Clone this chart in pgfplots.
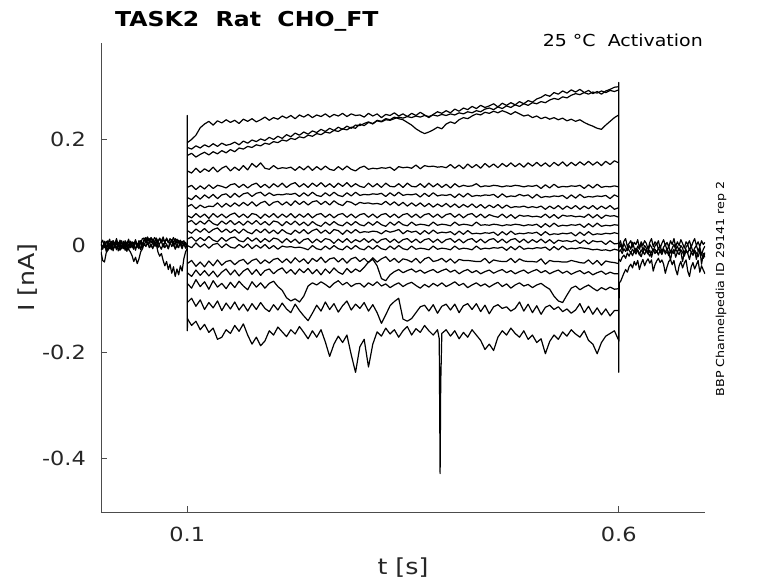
\documentclass[border=0pt]{standalone}
\usepackage{pgfplots}
\pgfplotsset{compat=1.18}
\usepackage{pgfplotstable}
\usepackage{fontspec}
\setmainfont{DejaVu Sans}[FakeStretch=1.15]
\definecolor{txt}{HTML}{262626}

% times in ms, currents in pA
\pgfplotstableread{
t q1 q2 q3 q4 q5
0 5 -8 2 -12 4
2 10 -2 -7 -28 -5
4 -4 6 8 -31 7
6 8 -11 -1 -14 -6
8 2 4 -9 -8 9
10 12 -6 4 -4 -1
12 -3 8 -5 5 -8
14 9 -10 9 -7 6
16 3 2 -3 2 -4
18 13 -8 6 -6 10
20 -1 6 -10 4 -2
22 10 -4 2 -9 8
24 5 9 -6 0 -6
26 -3 -6 8 -4 3
28 9 4 -4 6 -9
30 3 -11 4 -2 2
32 12 2 -8 -7 9
34 -4 8 6 -12 -4
36 7 -4 -1 -19 6
38 1 6 -7 -30 -2
40 11 -9 9 -22 8
42 -1 4 -3 -34 -1
44 9 -2 6 -25 -6
46 5 8 -8 -12 9
48 13 -6 4 -6 2
50 14 10 0 4 12
52 9 15 9 -2 6
54 16 8 2 6 14
56 8 13 7 -4 7
58 14 5 -3 2 15
60 7 12 6 -6 9
62 15 6 -1 4 4
64 10 14 9 -2 3
66 5 8 -4 6 -12
68 14 13 4 -1 -20
70 8 5 8 -7 -15
72 16 11 -3 4 -28
74 6 6 6 -4 -38
76 12 14 2 2 -30
78 5 8 -6 -6 -45
80 13 3 4 7 -35
82 8 11 9 -2 -52
84 15 6 -1 4 -40
86 6 13 6 -7 -58
88 12 4 -4 2 -44
90 5 10 8 -4 -55
92 10 3 2 6 -38
94 3 8 -6 -2 -48
96 9 1 4 4 -25
98 2 6 -2 -5 -12
100 0 0 0 0 -5
}\pretab

\pgfplotstableread{
t c1 c2 c3 c4 c5 c6 c7 c8 c9 c10 c11 c12 c13 c14 c15 c16
100 193 184 169 140 109 90 73 56 43 28 12 0 -34 -51 -71 -107
105 199 181 173 136 113 86 77 52 47 23 16 -4 -28 -58 -80 -99
110 207 187 166 145 105 94 69 60 39 31 8 5 -39 -46 -64 -114
115 221 183 171 137 112 87 76 53 46 25 15 -3 -31 -56 -77 -102
120 228 189 175 144 106 95 71 59 40 32 9 3 -40 -47 -68 -120
125 233 185 170 139 114 89 74 51 48 24 17 -5 -29 -57 -82 -107
130 226 191 176 147 107 96 73 60 41 30 10 2 -38 -48 -66 -117
135 234 186 172 138 113 88 80 53 38 33 7 4 -27 -59 -78 -104
140 230 192 178 145 111 95 72 59 46 25 15 -4 -37 -50 -71 -122
145 236 188 174 149 108 97 79 52 40 31 8 3 -30 -44 -81 -108
150 231 190 180 140 114 90 73 58 47 24 14 -3 -28 -55 -69 -119
155 235 194 176 147 116 98 80 61 39 30 16 -5 -36 -46 -79 -106
160 229 189 183 141 109 91 74 53 45 23 9 2 -29 -57 -67 -121
165 237 196 181 150 115 97 81 59 38 31 7 -4 -26 -48 -76 -110
170 233 192 186 142 108 99 75 52 46 25 15 3 -35 -43 -83 -123
175 238 198 184 154 114 92 82 60 40 22 8 -6 -28 -54 -68 -109
180 232 195 189 147 117 98 74 58 47 30 14 1 -25 -45 -78 -120
185 236 200 187 155 109 100 80 51 39 24 6 -5 -34 -56 -70 -107
190 241 197 192 145 115 93 83 59 45 31 13 2 -27 -47 -80 -118
195 235 203 190 143 108 99 75 53 38 23 7 -6 -33 -44 -71 -124
200 240 199 195 150 116 94 81 60 46 29 14 0 -26 -53 -67 -111
205 237 205 193 144 110 96 83 52 44 22 12 -7 -24 -46 -77 -121
210 243 201 198 146 117 95 76 59 37 30 5 -1 -32 -42 -84 -108
215 239 208 196 145 109 97 82 53 45 24 13 -3 -25 -52 -98 -119
220 244 204 201 147 115 96 75 60 39 21 6 -2 -33 -45 -104 -126
225 238 211 199 141 118 98 84 52 46 29 12 -4 -23 -54 -100 -110
230 245 207 204 148 110 92 77 59 38 23 4 -3 -31 -44 -106 -122
235 241 213 202 142 116 99 83 53 44 30 11 -5 -25 -51 -95 -132
240 246 209 207 149 109 93 76 60 37 22 13 -8 -34 -43 -76 -141
245 240 215 205 141 117 100 82 52 45 28 5 0 -24 -53 -70 -127
250 245 212 210 148 111 94 84 58 39 31 12 -6 -30 -45 -74 -112
255 242 218 208 142 118 92 77 60 36 23 6 -8 -22 -55 -68 -123
260 247 214 213 149 110 99 83 53 44 29 13 -1 -32 -44 -73 -106
265 241 220 211 143 116 93 76 59 38 22 11 -7 -25 -52 -79 -120
270 246 216 216 141 109 100 84 52 45 30 4 0 -23 -42 -71 -109
275 243 222 214 148 117 94 78 58 39 28 12 -6 -31 -50 -66 -125
280 248 218 219 142 111 92 75 60 37 21 6 -8 -24 -54 -74 -113
285 242 224 217 149 118 99 83 53 44 29 13 -1 -33 -43 -69 -104
290 247 220 222 143 110 93 81 59 38 23 5 -7 -25 -51 -77 -121
295 244 226 220 140 116 100 76 52 45 30 11 0 -22 -44 -72 -110
300 245 225 228 146 111 94 81 58 39 24 7 -6 -30 -49 -71 -118
305 241 229 225 149 109 96 79 60 37 26 13 -8 -24 -41 -78 -107
310 248 232 231 143 117 95 80 53 44 25 6 -1 -32 -31 -70 -123
315 243 228 229 145 110 97 78 59 38 27 12 -7 -23 -26 -75 -111
320 247 235 234 144 116 96 79 52 45 26 5 0 -31 -38 -68 -126
325 240 233 232 146 109 98 77 58 39 22 11 -6 -25 -62 -76 -146
330 246 238 236 145 117 92 83 60 36 28 13 -8 -21 -66 -72 -130
335 244 236 235 147 111 99 76 53 44 25 6 -1 -30 -55 -79 -113
340 249 241 238 141 110 93 82 59 38 27 12 -7 -24 -49 -74 -105
345 243 238 241 148 116 100 75 52 45 30 5 0 -32 -45 -70 -99
350 247 236 239 146 109 94 81 58 39 22 11 -6 -25 -51 -77 -138
355 242 231 242 147 117 96 74 60 37 28 13 -8 -27 -47 -72 -142
360 248 226 240 145 111 95 80 53 44 25 6 -1 -31 -44 -69 -137
365 244 219 243 151 110 97 74 59 38 27 12 -7 -24 -50 -75 -126
370 250 214 241 144 116 91 80 52 40 21 5 -5 -33 -46 -80 -115
375 245 210 244 150 109 98 73 58 39 28 11 -6 -25 -52 -73 -112
380 240 213 242 148 117 92 79 60 37 22 13 -8 -22 -48 -78 -123
385 246 217 245 149 110 99 72 53 44 29 6 -1 -30 -45 -71 -111
390 251 222 243 147 116 93 78 59 38 23 12 -7 -28 -51 -76 -127
395 248 219 246 148 109 95 73 52 40 25 5 -5 -24 -47 -70 -114
400 253 228 244 146 115 94 79 58 39 24 11 -6 -31 -44 -77 -110
405 249 232 247 152 108 96 72 60 37 26 13 -8 -25 -50 -73 -121
410 256 229 245 145 116 90 78 53 44 20 6 -1 -33 -46 -68 -110
415 252 236 249 151 110 97 71 59 38 27 12 -7 -26 -53 -75 -126
420 258 240 247 144 113 91 77 52 40 21 5 -5 -28 -48 -71 -113
425 255 238 251 153 111 98 72 58 39 28 11 -6 -28 -45 -79 -109
430 261 243 249 146 112 92 78 60 37 22 13 -8 -29 -51 -74 -120
435 257 247 253 152 116 94 71 53 44 23 6 -1 -30 -47 -70 -109
440 263 245 251 145 110 93 77 59 38 22 12 -7 -30 -53 -76 -124
445 259 250 256 154 112 95 70 52 39 24 5 -5 -24 -49 -72 -112
450 262 248 258 147 111 94 76 58 38 23 11 -6 -33 -46 -78 -128
455 266 252 255 153 113 96 71 55 40 25 13 -4 -27 -52 -73 -115
460 260 249 260 146 112 90 77 53 39 19 6 -5 -29 -48 -69 -111
465 267 253 257 154 110 97 70 59 37 26 12 -3 -30 -45 -77 -118
470 263 250 262 148 112 91 76 52 39 20 5 -9 -30 -51 -72 -115
475 268 246 259 155 111 93 71 58 38 27 11 -2 -24 -47 -80 -123
480 264 251 264 148 113 92 73 51 40 21 13 -8 -32 -53 -74 -118
485 270 247 261 154 112 96 72 57 39 23 6 -1 -25 -49 -70 -106
490 266 243 266 147 110 93 74 55 37 22 12 -7 -29 -46 -76 -123
495 272 245 263 155 112 95 71 56 39 24 5 -5 -30 -52 -73 -110
500 269 240 268 149 111 89 73 54 38 23 11 -6 -30 -48 -79 -126
505 275 243 266 156 113 96 71 55 40 25 6 -4 -31 -45 -74 -113
510 278 238 270 149 107 90 74 53 34 19 12 -5 -25 -51 -71 -129
515 283 241 268 155 114 92 68 59 41 26 5 -3 -35 -47 -77 -116
520 280 237 273 148 108 91 74 52 35 20 11 -9 -28 -53 -82 -112
525 287 240 276 156 115 93 69 58 42 22 4 -2 -30 -49 -95 -120
530 284 236 274 150 109 92 75 51 36 21 10 -8 -30 -46 -104 -115
535 290 239 279 157 111 94 68 57 38 23 8 -1 -31 -52 -107 -124
540 286 234 277 149 110 88 74 55 37 22 9 -7 -31 -48 -93 -119
545 292 237 282 156 112 95 69 56 39 24 7 -5 -28 -54 -80 -127
550 288 233 285 150 111 89 75 54 38 18 10 -6 -30 -50 -76 -121
555 293 236 283 157 113 96 68 55 40 25 4 -4 -32 -47 -83 -109
560 287 231 287 151 107 90 74 53 34 19 10 -5 -33 -53 -78 -126
565 291 227 284 158 114 92 69 59 41 26 3 -6 -27 -49 -74 -114
570 285 224 288 151 108 91 75 52 35 20 9 -8 -35 -55 -80 -129
575 289 220 286 157 115 93 68 58 42 22 7 -7 -28 -51 -85 -117
580 284 218 290 150 109 92 74 51 36 21 8 -9 -37 -48 -79 -130
585 290 226 287 158 111 94 69 57 38 23 2 -8 -29 -54 -83 -119
590 293 233 291 152 110 88 75 55 37 22 9 -10 -31 -50 -78 -132
595 297 240 289 159 112 95 68 56 39 24 3 -7 -32 -53 -82 -122
600 298 245 292 155 110 91 71 53 38 22 4 -9 -34 -53 -81 -122
}\pulsetab

\pgfplotstableread{
t v
100 -137
105 -150
110 -142
115 -158
120 -148
125 -163
130 -155
135 -176
140 -172
145 -158
150 -165
155 -150
160 -161
165 -147
170 -168
175 -185
180 -172
185 -188
190 -179
195 -160
200 -168
205 -153
210 -162
215 -171
220 -158
225 -166
230 -152
235 -163
240 -175
245 -160
250 -172
255 -158
260 -181
265 -208
270 -185
275 -170
280 -182
285 -168
290 -205
295 -238
300 -190
305 -176
310 -228
315 -185
320 -162
325 -170
330 -155
335 -166
340 -158
345 -172
350 -160
355 -152
360 -168
365 -156
370 -163
375 -150
380 -160
385 -168
390 -158
392 -175
393 -428
393.7 -260
395 -165
400 -158
405 -170
410 -160
415 -175
420 -163
425 -172
430 -158
435 -168
440 -178
445 -195
450 -185
455 -197
460 -172
465 -160
470 -168
475 -155
480 -165
485 -172
490 -160
495 -176
500 -168
505 -182
510 -175
515 -203
520 -180
525 -168
530 -176
535 -162
540 -170
545 -158
550 -166
555 -172
560 -160
565 -178
570 -185
575 -203
580 -182
585 -170
590 -165
595 -160
600 -178
}\bottomtab

\pgfplotstableread{
t p1 p2 p3 p4 p5
600 0 -5 -12 -25 -70
602 9 2 -8 -30 -68
604 -5 -9 -15 -22 -60
606 8 4 -6 -18 -52
608 13 -3 -11 -24 -45
610 -2 -10 -4 -14 -50
612 4 0 -9 -20 -40
614 9 -7 -14 -12 -35
616 -3 6 -7 -19 -42
618 6 -5 -12 -10 -30
620 2 -12 -5 -16 -37
622 11 -1 -10 -8 -28
624 -5 -7 -18 -15 -45
626 7 4 -8 -21 -34
628 0 -9 -13 -11 -26
630 9 0 -6 -17 -38
632 4 -5 -11 -9 -30
634 -7 -14 -16 -14 -25
636 6 2 -9 -20 -33
638 13 -3 -22 -12 -27
640 -2 -10 -10 -7 -48
642 7 -1 -7 -15 -36
644 2 4 -13 -10 -29
646 9 -7 -5 -18 -24
648 -5 0 -11 -8 -32
650 4 -12 -17 -13 -27
652 11 -3 -8 -6 -35
654 0 2 -12 -16 -52
656 6 -9 -6 -11 -40
658 -3 -1 -14 -19 -30
660 9 -14 -27 -9 -26
662 2 -5 -10 -14 -36
664 13 2 -15 -7 -28
666 -2 -7 -7 -22 -45
668 7 -1 -12 -12 -55
670 0 -10 -5 -17 -38
672 11 0 -11 -8 -30
674 4 -5 -30 -13 -42
676 -5 -16 -13 -20 -33
678 7 -3 -8 -10 -27
680 2 2 -14 -15 -48
682 9 -9 -6 -26 -58
684 -3 -1 -12 -12 -40
686 6 -12 -18 -18 -32
688 13 -5 -9 -9 -44
690 0 0 -26 -14 -36
692 7 -10 -11 -21 -28
694 -2 -3 -7 -11 -50
696 9 -18 -35 -16 -38
698 2 -7 -15 -24 -46
700 6 -1 -22 -13 -53
}\posttab

\begin{document}
\begin{tikzpicture}
\path[use as bounding box] (0,0) rectangle (778pt,583pt);
\begin{axis}[
  at={(101pt,71pt)}, anchor=south west,
  scale only axis, width=604pt, height=469pt,
  xmin=0, xmax=700, ymin=-500, ymax=380,
  axis x line*=bottom, axis y line*=left,
  axis line style={-, line width=0.5pt, color=black!70},
  every tick/.style={line width=0.5pt, color=black!70},
  major tick length=6pt, tick align=inside,
  xtick={100,600}, xticklabels={0.1,0.6},
  ytick={-400,-200,0,200}, yticklabels={-0.4,-0.2,0,0.2},
  ticklabel style={font=\fontsize{19.5}{22}\selectfont, text=txt},
  yticklabel style={inner sep=0pt, anchor=east, xshift=-15pt},
  xticklabel style={inner sep=0pt, anchor=north, yshift=-15pt},
  xlabel={t [s]}, ylabel={I [nA]},
  label style={font=\fontsize{22}{26}\selectfont, text=txt},
  xlabel style={at={(axis description cs:0.5,-0.119)}, anchor=center},
  ylabel style={at={(axis description cs:-0.121,0.5)}, anchor=center},
  no markers,
  every axis plot post/.append style={black, solid, line width=1.2pt, line join=round, mark=none},
]
\pgfplotsinvokeforeach{q1,q2,q3,q4,q5}{\addplot table[x=t,y=#1]{\pretab};}
\pgfplotsinvokeforeach{c1,c2,c3,c4,c5,c6,c7,c8,c9,c10,c11,c12,c13,c14,c15,c16}{\addplot table[x=t,y=#1]{\pulsetab};}
\addplot table[x=t,y=v]{\bottomtab};
\pgfplotsinvokeforeach{p1,p2,p3,p4,p5}{\addplot table[x=t,y=#1]{\posttab};}
\addplot coordinates {(100,0) (100,244) (100,-160) (100.5,-137)};
\addplot coordinates {(600,298) (600,306) (600,-238) (600.6,-70)};
\end{axis}
\node[anchor=base west, inner sep=0pt, font=\bfseries\fontsize{20.5}{24}\selectfont] at (115pt,556pt) {TASK2\ \ Rat\ \ CHO\_FT};
\node[anchor=base east, inner sep=0pt, font=\fontsize{16.5}{19}\selectfont] at (703pt,536pt) {25 °C\ \ Activation};
\node[rotate=90, anchor=center, inner sep=0pt, font=\fontsize{11}{14}\selectfont] at (721pt,294pt) {BBP Channelpedia ID 29141 rep 2};
\end{tikzpicture}
\end{document}
